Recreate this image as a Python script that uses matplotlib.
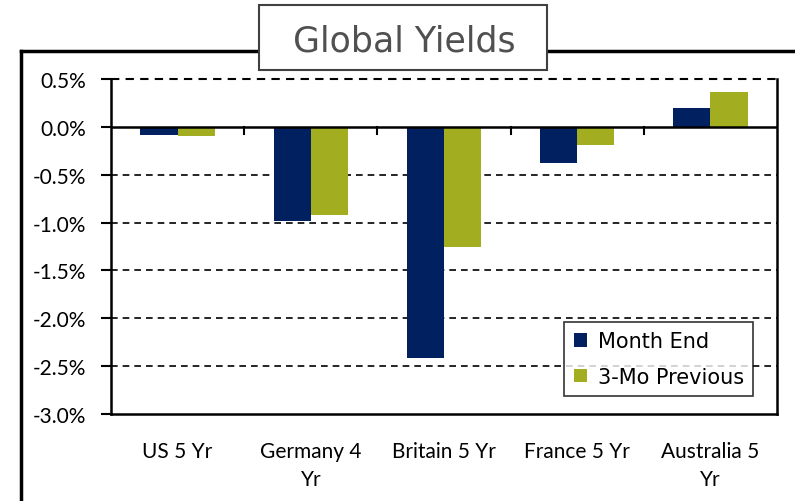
import matplotlib
matplotlib.use("Agg")
import matplotlib.pyplot as plt
import matplotlib.transforms as mtransforms
import numpy as np
from matplotlib.patches import Rectangle

CATEGORIES = ["US 5 Yr", "Germany 4\nYr", "Britain 5 Yr", "France 5 Yr", "Australia 5\nYr"]
MONTH_END = [-0.08, -0.98, -2.42, -0.38, 0.20]
PREVIOUS = [-0.10, -0.92, -1.25, -0.19, 0.36]
YTICKS = [0.5, 0.0, -0.5, -1.0, -1.5, -2.0, -2.5, -3.0]

NAVY, OLIVE = "#002060", "#a2ad1f"
LABEL_FONT = ["Lato", "DejaVu Sans"]

fig = plt.figure(figsize=(7.95, 5.02), dpi=100)
ax = fig.add_axes([111 / 795, 1 - 415 / 502, 666 / 795, 335 / 502])

x = np.arange(len(CATEGORIES))
w = 0.28
ax.bar(x - w / 2, MONTH_END, w, color=NAVY, label="Month End", zorder=3)
ax.bar(x + w / 2, PREVIOUS, w, color=OLIVE, label="3-Mo Previous", zorder=3)

ax.set_xlim(-0.5, len(CATEGORIES) - 0.5)
ax.set_ylim(-3.0, 0.5)
ax.set_yticks(YTICKS)
ax.set_yticklabels([f"{v:.1f}%" for v in YTICKS], fontsize=15, family=LABEL_FONT)
ax.tick_params(axis="y", direction="out", length=7, width=1.5, pad=11)
ax.set_xticks([])

for v in YTICKS[2:-1]:
    ax.axhline(v, color="black", lw=1.2, ls=(0, (4, 3)), zorder=1)
ax.axhline(0.5, color="black", lw=1.5, ls=(0, (4, 3)), zorder=4, clip_on=False)
ax.axhline(0.0, color="black", lw=1.8, zorder=4)
for b in np.arange(0.5, len(CATEGORIES) - 0.5):
    ax.plot([b, b], [0.0, -0.07], color="black", lw=1.5, zorder=4)

for s in ["left", "right", "bottom"]:
    ax.spines[s].set_linewidth(1.8)
ax.spines["top"].set_visible(False)

# category labels below the plot
trans = mtransforms.blended_transform_factory(ax.transData, ax.transAxes)
for i, c in enumerate(CATEGORIES):
    ax.text(i, -0.08, c, ha="center", va="top", fontsize=15,
            family=LABEL_FONT, linespacing=1.5, transform=trans)

leg = ax.legend(loc="lower right", bbox_to_anchor=(0.98, 0.022), fontsize=15,
                frameon=True, fancybox=False, edgecolor="black",
                handlelength=0.65, handleheight=0.65, handletextpad=0.5,
                borderpad=0.45, labelspacing=0.75)
leg.get_frame().set_linewidth(1.2)

# outer frame and title box
fig.add_artist(plt.Line2D([21 / 795, 21 / 795], [0, 1 - 52 / 502],
                          color="black", lw=2.5, transform=fig.transFigure))
fig.add_artist(plt.Line2D([21 / 795, 1], [1 - 52 / 502, 1 - 52 / 502],
                          color="black", lw=2.5, transform=fig.transFigure))
fig.add_artist(Rectangle((259 / 795, 1 - 71 / 502), 288 / 795, 65 / 502,
                         facecolor="white", edgecolor="#404040", lw=1.5,
                         transform=fig.transFigure, zorder=5))
fig.text(404 / 795, 1 - 42 / 502, "Global Yields", ha="center", va="center",
         fontsize=25, color="#505050", zorder=6)

fig.savefig("out.png", dpi=100)
